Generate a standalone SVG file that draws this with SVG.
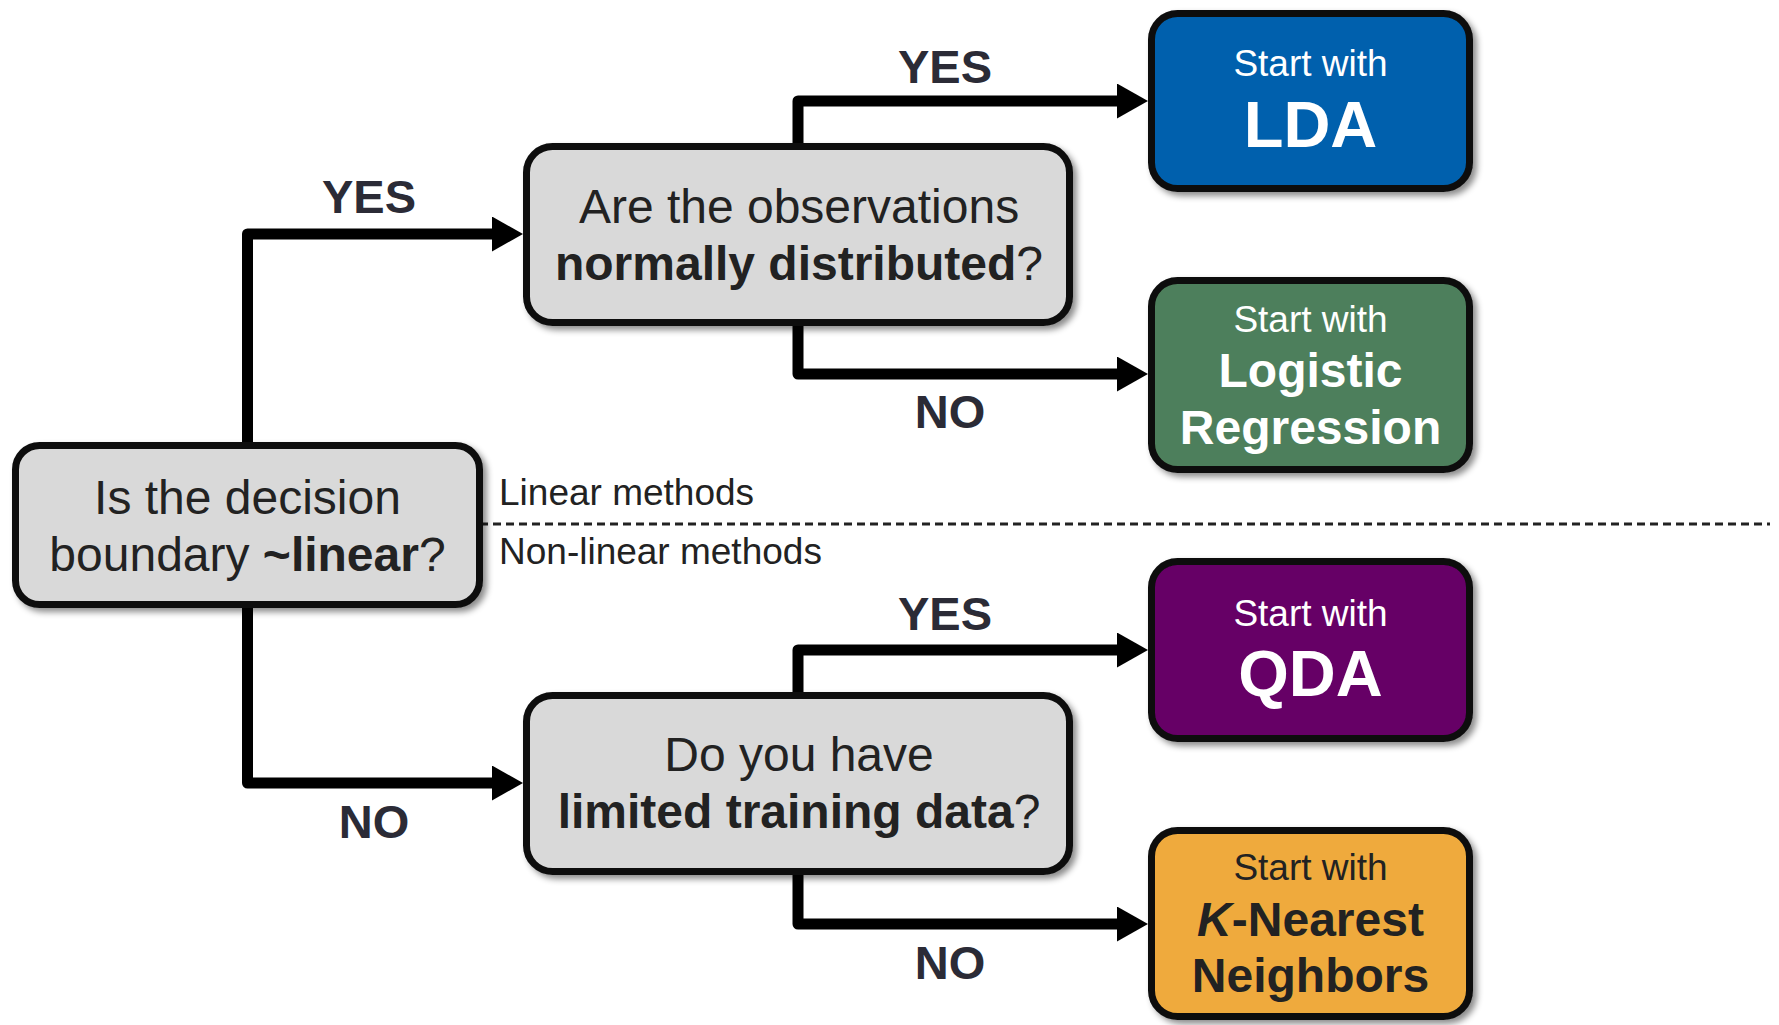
<svg xmlns="http://www.w3.org/2000/svg" width="1779" height="1025" viewBox="0 0 1779 1025">
<defs>
<filter id="sh" x="-10%" y="-10%" width="125%" height="130%">
<feDropShadow dx="4" dy="4" stdDeviation="3" flood-color="#000" flood-opacity="0.45"/>
</filter>
<marker id="ah" markerUnits="userSpaceOnUse" markerWidth="32" markerHeight="36" refX="11" refY="17.5" orient="auto">
<path d="M0,0 L31,17.5 L0,35 Z" fill="#000"/>
</marker>
</defs>
<style>
.box{stroke:#0d0d0d;stroke-width:7;filter:url(#sh)}
.q{fill:#d9d9d9}
.qt{font-family:"Liberation Sans",Arial,sans-serif;font-size:48px;fill:#222;text-anchor:middle}
.b{font-weight:bold}
.conn{fill:none;stroke:#000;stroke-width:11;stroke-linejoin:round;marker-end:url(#ah)}
.lab{font-family:"Liberation Sans",Arial,sans-serif;font-size:47px;font-weight:bold;fill:#2b2b36;text-anchor:middle}
.sw{font-family:"Liberation Sans",Arial,sans-serif;font-size:37px;text-anchor:middle}
.big{font-family:"Liberation Sans",Arial,sans-serif;font-size:65px;font-weight:bold;text-anchor:middle}
.mid{font-family:"Liberation Sans",Arial,sans-serif;font-size:48px;font-weight:bold;text-anchor:middle}
.sec{font-family:"Liberation Sans",Arial,sans-serif;font-size:37px;fill:#222}
</style>

<g id="divider">
<line x1="480" y1="524" x2="1770" y2="524" stroke="#222" stroke-width="3" stroke-dasharray="8,5"/>
<text class="sec" x="499" y="505">Linear methods</text>
<text class="sec" x="499" y="564">Non-linear methods</text>
</g>

<g id="connectors">
<path class="conn" d="M247.5,443 V234 H503"/>
<path class="conn" d="M247.5,607 V783 H503"/>
<path class="conn" d="M798,144 V101 H1128"/>
<path class="conn" d="M798,325 V374 H1128"/>
<path class="conn" d="M798,693 V650 H1128"/>
<path class="conn" d="M798,874 V924 H1128"/>
<text class="lab" x="369" y="213">YES</text>
<text class="lab" x="374" y="838">NO</text>
<text class="lab" x="945" y="83">YES</text>
<text class="lab" x="950" y="428">NO</text>
<text class="lab" x="945" y="630">YES</text>
<text class="lab" x="950" y="979">NO</text>
</g>

<g id="q-linear">
<rect class="box q" x="15.5" y="445.5" width="464" height="159" rx="24"/>
<text class="qt" x="247.5" y="514">Is the decision</text>
<text class="qt" x="247.5" y="571">boundary <tspan class="b">~linear</tspan>?</text>
</g>

<g id="q-normal">
<rect class="box q" x="526.5" y="146.5" width="543" height="176" rx="26"/>
<text class="qt" x="799" y="223">Are the observations</text>
<text class="qt" x="799" y="280"><tspan class="b">normally distributed</tspan>?</text>
</g>

<g id="q-limited">
<rect class="box q" x="526.5" y="695.5" width="543" height="176" rx="26"/>
<text class="qt" x="799" y="771">Do you have</text>
<text class="qt" x="799" y="828"><tspan class="b">limited training data</tspan>?</text>
</g>

<g id="lda">
<rect class="box" fill="#0061ad" x="1151.5" y="13.5" width="318" height="175" rx="26"/>
<text class="sw" x="1310.5" y="76" fill="#fff">Start with</text>
<text class="big" x="1310.5" y="147" fill="#fff">LDA</text>
</g>

<g id="logistic">
<rect class="box" fill="#4e7f5b" x="1151.5" y="280.5" width="318" height="189" rx="26"/>
<text class="sw" x="1310.5" y="332" fill="#fff">Start with</text>
<text class="mid" x="1310.5" y="387" fill="#fff">Logistic</text>
<text class="mid" x="1310.5" y="444" fill="#fff">Regression</text>
</g>

<g id="qda">
<rect class="box" fill="#660066" x="1151.5" y="561.5" width="318" height="177" rx="26"/>
<text class="sw" x="1310.5" y="626" fill="#fff">Start with</text>
<text class="big" x="1310.5" y="696" fill="#fff">QDA</text>
</g>

<g id="knn">
<rect class="box" fill="#efaa3c" x="1151.5" y="830.5" width="318" height="186" rx="26"/>
<text class="sw" x="1310.5" y="880" fill="#222">Start with</text>
<text class="mid" x="1310.5" y="936" fill="#222"><tspan font-style="italic">K</tspan>-Nearest</text>
<text class="mid" x="1310.5" y="992" fill="#222">Neighbors</text>
</g>
</svg>
